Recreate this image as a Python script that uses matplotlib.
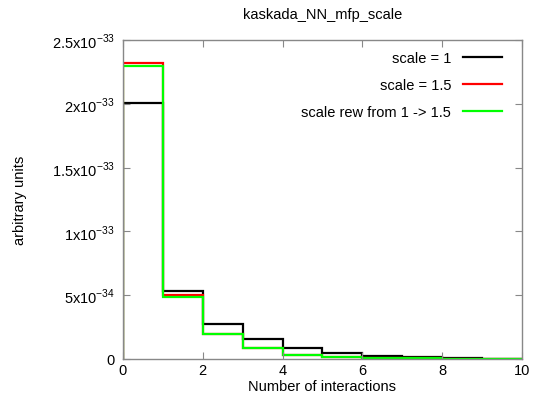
import numpy as np
import matplotlib
matplotlib.use("Agg")
import matplotlib.pyplot as plt
from matplotlib.ticker import FixedLocator

plt.rcParams['font.family'] = ['Liberation Sans', 'DejaVu Sans']
plt.rcParams['mathtext.fontset'] = 'custom'
plt.rcParams['mathtext.rm'] = 'Liberation Sans'

# bin edges (number of interactions)
edges = np.arange(0, 11)

# histogram contents, in units of 1e-33
scale_1 = [2.005, 0.533, 0.272, 0.157, 0.086, 0.047, 0.024, 0.013, 0.006, 0.003]
scale_15 = [2.320, 0.500, 0.198, 0.088, 0.035, 0.019, 0.010, 0.005, 0.002, 0.001]
scale_rew = [2.300, 0.488, 0.196, 0.086, 0.034, 0.018, 0.009, 0.005, 0.002, 0.001]

y_ticks = [0, 0.5, 1.0, 1.5, 2.0, 2.5]
y_labels = ['0', r'5x10$^{-34}$', r'1x10$^{-33}$', r'1.5x10$^{-33}$',
            r'2x10$^{-33}$', r'2.5x10$^{-33}$']

fig = plt.figure(figsize=(5.34, 4.10), dpi=100)
ax = fig.add_axes([0.2303, 0.122, 0.7472, 0.778])

ax.stairs(scale_1, edges, color='black', lw=1.6, label='scale = 1')
ax.stairs(scale_15, edges, color='red', lw=1.6, label='scale = 1.5')
ax.stairs(scale_rew, edges, color='#00ff00', lw=1.6, label='scale rew from 1 -> 1.5')

ax.set_xlim(0, 10)
ax.set_ylim(0, 2.5)
ax.set_xticks([0, 2, 4, 6, 8, 10])
ax.yaxis.set_major_locator(FixedLocator(y_ticks))
ax.set_yticklabels(y_labels)

for s in ax.spines.values():
    s.set_color('#888888')
    s.set_linewidth(1.0)
ax.tick_params(direction='in', length=5, color='#888888', top=True, right=True,
               labelsize=10.5)
ax.tick_params(axis='x', pad=3)
ax.tick_params(axis='y', pad=6)

ax.set_title('kaskada_NN_mfp_scale', fontsize=10.5, pad=16)
ax.set_xlabel('Number of interactions', fontsize=10.5, labelpad=1)
ax.set_ylabel('arbitrary units', fontsize=10.5, labelpad=18)

ax.legend(loc='upper right', bbox_to_anchor=(0.965, 0.985), borderaxespad=0,
          frameon=False, markerfirst=False, fontsize=10.5,
          handlelength=2.7, labelspacing=0.9)

fig.savefig('out.png', dpi=100)
